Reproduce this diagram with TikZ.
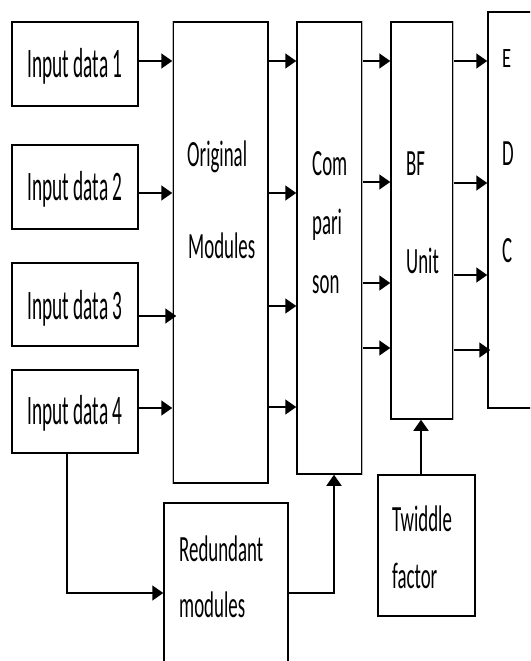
\documentclass[tikz,border=0pt]{standalone}
\usepackage{fontspec}
\newfontfamily\fin{Carlito}[FakeStretch=0.46]
\newfontfamily\fbl{Carlito}[FakeStretch=0.51]
\newfontfamily\fe{Carlito}[FakeStretch=0.66]
\usetikzlibrary{arrows.meta}
\begin{document}
\begin{tikzpicture}[x=1pt,y=-1pt,
  box/.style={draw=black,line width=1.5pt,fill=white,inner sep=0pt},
  arr/.style={line width=1.6pt,-{Triangle[length=11pt,width=15pt]}},
  intxt/.style={inner sep=0pt,anchor=base,font=\fin\fontsize{42pt}{48pt}\selectfont},
  lbl/.style={inner sep=0pt,anchor=base west,font=\fbl\fontsize{37pt}{44pt}\selectfont},
  lble/.style={inner sep=0pt,anchor=base west,font=\fe\fontsize{28pt}{34pt}\selectfont}]
\useasboundingbox (0,0) rectangle (530,661);
\clip (0,0) rectangle (530,661);
\fill[white] (0,0) rectangle (530,661);
% boxes
\node[box,minimum width=126pt,minimum height=84pt] (in1) at (75,64) {};
\node[box,minimum width=126pt,minimum height=84pt] (in2) at (75,187) {};
\node[box,minimum width=126pt,minimum height=83pt] (in3) at (75,304.5) {};
\node[box,minimum width=126pt,minimum height=83pt] (in4) at (75,411.5) {};
\node[box,minimum width=95pt,minimum height=461pt] (orig) at (220.5,252.5) {};
\node[box,minimum width=65pt,minimum height=452pt] (comp) at (329.5,248) {};
\node[box,minimum width=62pt,minimum height=397pt] (bf) at (422,220.5) {};
\node[box,minimum width=57pt,minimum height=396pt] (edc) at (516.5,210) {};
\node[box,minimum width=124pt,minimum height=177pt] (red) at (226,591.5) {};
\node[box,minimum width=97pt,minimum height=141pt] (tw) at (426.5,545.5) {};
% lighter edges
\draw[gray!55,line width=1.2pt] (orig.north west) -- (orig.south west);
\draw[gray!55,line width=1.2pt] (comp.north east) -- (comp.south east);
\draw[gray!55,line width=1.2pt] (bf.north east) -- (bf.south east);
% texts
\node[intxt] (t1) at (75,77.5) {Input data 1};
\node[intxt] (t2) at (75,200.5) {Input data 2};
\node[intxt] (t3) at (75,319) {Input data 3};
\node[intxt] (t4) at (75,424) {Input data 4};
\node[lbl] (o1) at (187,166) {Original};
\node[lbl] (o2) at (188,258) {Modules};
\node[lbl] (c1) at (312,175) {Com};
\node[lbl] (c2) at (312,234) {pari};
\node[lbl] (c3) at (312,293) {son};
\node[lbl] (b1) at (406,175) {BF};
\node[lbl] (b2) at (406,273) {Unit};
\node[lble] (e1) at (502,67) {E};
\node[lbl] (e2) at (502,165) {D};
\node[lbl] (e3) at (502,262) {C};
\node[lbl] (r1) at (179,561) {Redundant};
\node[lbl] (r2) at (179,617) {modules};
\node[lbl] (w1) at (392,531) {Twiddle};
\node[lbl] (w2) at (392,588) {factor};
% inputs to original
\draw[arr] (in1.east |- 0,61) -- (orig.west |- 0,61);
\draw[arr] (in2.east |- 0,193) -- (orig.west |- 0,193);
\draw[arr] (in3.east |- 0,316) -- ([xshift=4pt]orig.west |- 0,316);
\draw[arr] (in4.east |- 0,408) -- (orig.west |- 0,408);
% original to comparison
\draw[arr] (orig.east |- 0,61) -- (comp.west |- 0,61);
\draw[arr] (orig.east |- 0,193) -- (comp.west |- 0,193);
\draw[arr] (orig.east |- 0,306) -- (comp.west |- 0,306);
\draw[arr] (orig.east |- 0,407) -- (comp.west |- 0,407);
% comparison to BF
\draw[arr] (comp.east |- 0,61) -- (bf.west |- 0,61);
\draw[arr] (comp.east |- 0,182) -- (bf.west |- 0,182);
\draw[arr] (comp.east |- 0,283) -- (bf.west |- 0,283);
\draw[arr] (comp.east |- 0,348) -- (bf.west |- 0,348);
% BF to EDC
\draw[arr] (bf.east |- 0,61) -- (edc.west |- 0,61);
\draw[arr] (bf.east |- 0,183) -- (edc.west |- 0,183);
\draw[arr] (bf.east |- 0,275) -- (edc.west |- 0,275);
\draw[arr] (bf.east |- 0,350) -- ([xshift=3pt]edc.west |- 0,350);
% input 4 to redundant
\draw[arr] (in4.south -| 67,0) |- (red.west |- 0,593);
% redundant to comparison
\draw[arr] (red.east |- 0,593) -| (comp.south -| 334,0);
% twiddle to BF
\draw[arr] (tw.north -| 421,0) -- (bf.south -| 421,0);
\end{tikzpicture}
\end{document}
